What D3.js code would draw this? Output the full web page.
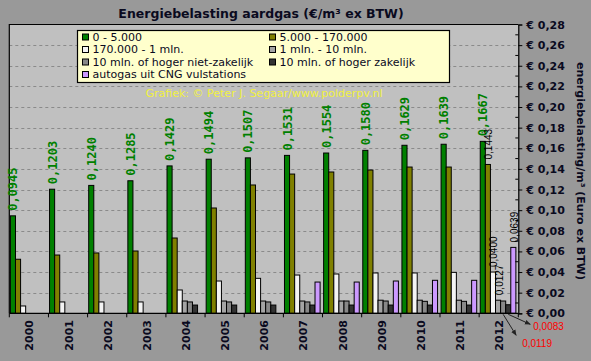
<!DOCTYPE html>
<html><head><meta charset="utf-8">
<script src="https://cdn.jsdelivr.net/npm/d3@7"></script>
<style>body{margin:0;background:#999999;}svg{display:block;}</style>
</head><body>
<svg id="c" width="591" height="361"></svg>
<script>
const years = ["2000","2001","2002","2003","2004","2005","2006","2007","2008","2009","2010","2011","2012"];
const seriesNames = ["0 - 5.000","5.000 - 170.000","170.000 - 1 mln.","1 mln. - 10 mln.","10 mln. of hoger niet-zakelijk","10 mln. of hoger zakelijk","autogas uit CNG vulstations"];
const s1 = [0.0945,0.1203,0.1240,0.1285,0.1429,0.1494,0.1507,0.1531,0.1554,0.1580,0.1629,0.1639,0.1667];
const s2 = [0.0524,0.0565,0.0585,0.0604,0.0730,0.1021,0.1244,0.1350,0.1370,0.1389,0.1418,0.1418,0.1443];
const s3 = [0.0071,0.0110,0.0110,0.0110,0.0226,0.0313,0.0339,0.0371,0.0381,0.0391,0.0391,0.0397,0.0400];
const s4 = [null,null,null,null,0.0119,0.0119,0.0119,0.0119,0.0119,0.0127,0.0127,0.0127,0.0127];
const s5 = [null,null,null,null,0.0110,0.0110,0.0110,0.0110,0.0119,0.0119,0.0116,0.0116,0.0119];
const s6 = [null,null,null,null,0.0080,0.0080,0.0080,0.0080,0.0080,0.0080,0.0080,0.0080,0.0083];
const s7 = [null,null,null,null,null,null,null,0.0303,0.0303,0.0313,0.0320,0.0320,0.0639];
const yTicks = [0,0.02,0.04,0.06,0.08,0.10,0.12,0.14,0.16,0.18,0.20,0.22,0.24,0.26,0.28];
const colors = ["#008000","#808000","#f4f4f4","#a4a4a4","#888888","#333333","#cc99ff"];
const allSeries = [s1,s2,s3,s4,s5,s6,s7];
const fmt = v => v.toFixed(4).replace(".", ",");
const fmtEuro = v => "€ " + v.toFixed(2).replace(".", ",");

const svg = d3.select("#c");
const L = 9.3, R = 518.3, T = 24.5, B = 313.3;
const x = d3.scaleBand().domain(years).range([L, R]).padding(0);
const y = d3.scaleLinear().domain([0, 0.28]).range([B, T]);
const bw = x.bandwidth() * 0.13, off = x.bandwidth() * 0.028;

svg.append("rect").attr("width",591).attr("height",361).attr("fill","#999999");
svg.append("rect").attr("x",L).attr("y",T).attr("width",R-L).attr("height",B-T).attr("fill","#c0c0c0");

// gridlines
svg.append("g").selectAll("line").data(yTicks.filter(t => t > 0 && t < 0.28)).join("line")
  .attr("x1", L).attr("x2", R).attr("y1", d => Math.round(y(d))+0.5).attr("y2", d => Math.round(y(d))+0.5)
  .attr("stroke", "#8a8a8a").attr("stroke-dasharray", "3,3").attr("stroke-width", 1);

// border
svg.append("path").attr("d", `M${L},${B}V${T}H${R}`).attr("fill","none").attr("stroke","#000").attr("stroke-width",1.2);

// bars
allSeries.forEach((s, i) => {
  svg.append("g").selectAll("rect").data(years.map((yr, j) => ({yr, v: s[j]})).filter(d => d.v != null)).join("rect")
    .attr("x", d => x(d.yr) + off + i * bw)
    .attr("y", d => y(d.v))
    .attr("width", bw)
    .attr("height", d => y(0) - y(d.v))
    .attr("fill", colors[i]).attr("stroke", "#000").attr("stroke-width", 1);
});

// green labels
svg.append("g").selectAll("text").data(years.map((yr, j) => ({yr, v: s1[j]}))).join("text")
  .attr("transform", d => `translate(${x(d.yr) + off + bw/2 + 0.5},${y(d.v) - 5}) rotate(-90)`)
  .attr("dominant-baseline", "central")
  .attr("font-family", "'DejaVu Sans Mono', monospace").attr("font-weight", "bold").attr("font-size", 12)
  .attr("fill", "#008000").text(d => fmt(d.v));

// 2012 black labels
const last = years.length - 1;
const lastYr = years[last];
[[1, s2], [2, s3], [3, s4], [6, s7]].forEach(([i, s]) => {
  svg.append("text")
    .attr("transform", `translate(${x(lastYr) + off + i*bw + bw/2 + 1},${y(s[last]) - 5}) rotate(-90)`)
    .attr("dominant-baseline", "central")
    .attr("font-family", "'Liberation Sans Narrow', 'Arial Narrow', sans-serif").attr("font-size", 10)
    .attr("fill", "#000").text(fmt(s[last]));
});

// arrows with red labels
const defs = svg.append("defs");
defs.append("marker").attr("id","ah").attr("viewBox","0 0 10 10").attr("refX",9).attr("refY",5)
  .attr("markerWidth",6).attr("markerHeight",6).attr("orient","auto")
  .append("path").attr("d","M0,1L10,5L0,9z").attr("fill","#222");
[[5, s6, 22, 10, 25, 12], [4, s5, 13, 21, 19, 29]].forEach(([i, s, dx, dy, tx, ty]) => {
  const x0 = x(lastYr) + off + i*bw + bw/2, y0 = y(0) + 1;
  svg.append("line").attr("x1", x0).attr("y1", y0).attr("x2", x0 + dx).attr("y2", y0 + dy)
    .attr("stroke", "#222").attr("stroke-width", 1).attr("marker-end", "url(#ah)");
  svg.append("text").attr("x", x0 + tx).attr("y", y0 + ty).attr("dominant-baseline","central")
    .attr("font-family", "'Liberation Sans Narrow', 'Arial Narrow', sans-serif").attr("font-size", 10)
    .attr("fill", "#ff0000").text(fmt(s[last]));
});

// x axis ticks
svg.append("g").selectAll("line").data(years.concat(["end"])).join("line")
  .attr("x1", (d, k) => L + k * x.bandwidth()).attr("x2", (d, k) => L + k * x.bandwidth())
  .attr("y1", B).attr("y2", B + 4).attr("stroke", "#000");
svg.append("line").attr("x1", L).attr("x2", R).attr("y1", B).attr("y2", B).attr("stroke", "#000").attr("stroke-width", 1.2);
svg.append("g").selectAll("text").data(years).join("text")
  .attr("transform", d => `translate(${x(d) + x.bandwidth()/2 + 1},${320}) rotate(-90)`)
  .attr("text-anchor", "end").attr("dominant-baseline", "central")
  .attr("font-family", "'DejaVu Sans', sans-serif").attr("font-weight", "bold").attr("font-size", 11)
  .attr("fill", "#0a0a1e").text(d => d);

// right axis
const yAxis = d3.axisRight(y).tickValues(yTicks).tickSize(4).tickPadding(4).tickFormat(fmtEuro);
const ga = svg.append("g").attr("transform", `translate(${R},0)`).call(yAxis);
ga.select(".domain").attr("stroke", "#000").attr("stroke-width", 1.2);
ga.selectAll("text").attr("font-family", "'DejaVu Sans', sans-serif").attr("font-weight", "bold")
  .attr("font-size", 11).attr("fill", "#0a0a1e");
svg.append("g").selectAll("line").data(d3.range(1, 28, 2).map(k => k * 0.01)).join("line")
  .attr("x1", R - 3).attr("x2", R).attr("y1", d => y(d)).attr("y2", d => y(d)).attr("stroke", "#000");

svg.append("text").attr("transform", "translate(580,171) rotate(90)").attr("text-anchor", "middle")
  .attr("dominant-baseline", "central")
  .attr("font-family", "'DejaVu Sans', sans-serif").attr("font-weight", "bold").attr("font-size", 11)
  .attr("fill", "#0a0a1e").text("energiebelasting/m³ (Euro ex BTW)");

// title
svg.append("text").attr("x", 261).attr("y", 13).attr("text-anchor", "middle").attr("dominant-baseline", "central")
  .attr("font-family", "'DejaVu Sans', sans-serif").attr("font-weight", "bold").attr("font-size", 12.5)
  .attr("fill", "#0a0a1e").text("Energiebelasting aardgas (€/m³ ex BTW)");

// legend
const lg = svg.append("g");
lg.append("rect").attr("x", 77.5).attr("y", 30.5).attr("width", 372).attr("height", 52)
  .attr("fill", "#ffffcc").attr("stroke", "#000").attr("stroke-width", 1.2);
seriesNames.forEach((n, i) => {
  const col = i % 2, row = Math.floor(i / 2);
  const lx = col === 0 ? 82.5 : 269.5, ly = 37 + row * 12.5;
  lg.append("rect").attr("x", lx).attr("y", ly - 3).attr("width", 6).attr("height", 6)
    .attr("fill", colors[i]).attr("stroke", "#000");
  lg.append("text").attr("x", lx + 10).attr("y", ly).attr("dominant-baseline", "central")
    .attr("font-family", "'DejaVu Sans', sans-serif").attr("font-size", 11).attr("fill", "#0a0a1e").text(n);
});

// credit
svg.append("text").attr("x", 264).attr("y", 93).attr("text-anchor", "middle").attr("dominant-baseline", "central")
  .attr("font-family", "'DejaVu Sans', sans-serif").attr("font-size", 11).attr("fill", "#f0f040")
  .text("Grafiek: © Peter J. Segaar/www.polderpv.nl");
</script>
</body></html>
